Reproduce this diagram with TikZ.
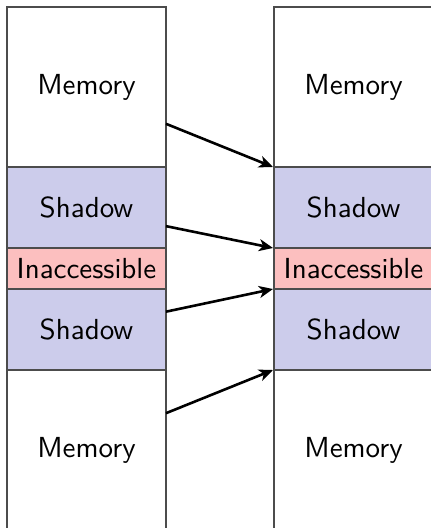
\documentclass[tikz,border=0pt]{standalone}
\usepackage{fontspec}
\setsansfont{lmsans10-regular}[Extension=.otf]
\usetikzlibrary{arrows.meta,calc}

\definecolor{shadowfill}{RGB}{204,204,235}
\definecolor{blockedfill}{RGB}{252,191,191}

\tikzset{
  region/.style={draw=black!70, line width=1.1pt, minimum width=159pt,
    inner sep=0pt, outer sep=0pt, font=\sffamily\fontsize{29}{34}\selectfont},
  memregion/.style={region, fill=white, minimum height=160pt},
  shadowregion/.style={region, fill=shadowfill, minimum height=81pt},
  blockedregion/.style={region, fill=blockedfill, minimum height=41pt},
  mapping/.style={line width=2.6pt, -{Stealth[length=14pt,width=12pt,inset=4pt]}}
}

\begin{document}
\begin{tikzpicture}[x=1pt,y=-1pt]
  \useasboundingbox (0,0) rectangle (431,528);

  % left address space
  \node[memregion]     (lmemA) at (86.5,87)    {Memory};
  \node[shadowregion]  (lshA)  at (86.5,207.5) {Shadow};
  \node[blockedregion] (lblk)  at (86.5,268.5) {Inaccessible};
  \node[shadowregion]  (lshB)  at (86.5,329.5) {Shadow};
  \node[memregion]     (lmemB) at (86.5,450)   {Memory};

  % right address space
  \node[memregion]     (rmemA) at (353.5,87)    {Memory};
  \node[shadowregion]  (rshA)  at (353.5,207.5) {Shadow};
  \node[blockedregion] (rblk)  at (353.5,268.5) {Inaccessible};
  \node[shadowregion]  (rshB)  at (353.5,329.5) {Shadow};
  \node[memregion]     (rmemB) at (353.5,450)   {Memory};

  % mapping sources on the left edge
  \coordinate (s1) at ($(lmemA.north east)!0.73!(lmemA.south east)$);
  \coordinate (s2) at ($(lshA.north east)!0.73!(lshA.south east)$);
  \coordinate (s3) at ($(lshB.north east)!0.28!(lshB.south east)$);
  \coordinate (s4) at ($(lmemB.north east)!0.27!(lmemB.south east)$);

  \draw[mapping] (s1) -- ($(rshA.north west)+(-1,0)$);
  \draw[mapping] (s2) -- ($(rblk.north west)+(-1,0)$);
  \draw[mapping] (s3) -- ($(rshB.north west)+(-1,0)$);
  \draw[mapping] (s4) -- ($(rmemB.north west)+(-1,0)$);
\end{tikzpicture}
\end{document}
